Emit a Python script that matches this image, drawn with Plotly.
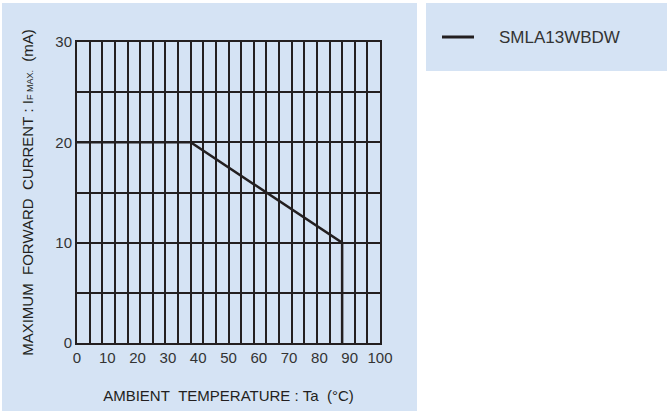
import plotly.graph_objects as go

# ---- data ----
series_name = "SMLA13WBDW"
temperature = [0, 37.5, 87.5, 87.5]      # Ta (°C)
current_max = [20, 20, 10, 0]            # IF max (mA)
x_tick_vals = [0, 10, 20, 30, 40, 50, 60, 70, 80, 90, 100]
y_tick_vals = [0, 5, 10, 15, 20, 25, 30]
y_tick_text = ["0", "", "10", "", "20", "", "30"]

W, H = 667, 419
L, R, T, B = 77, 287, 42, 76
pw, ph = W - L - R, H - T - B

def px(x):  # pixel -> paper x
    return (x - L) / pw

def py(y):  # pixel -> paper y
    return (H - B - y) / ph

panel = "#d5e3f4"
ink = "#231f20"
FONT = "Liberation Sans, Arial, sans-serif"

fig = go.Figure()
fig.add_trace(go.Scatter(
    x=temperature, y=current_max, mode="lines", name=series_name,
    line=dict(color=ink, width=2.5), showlegend=False, hoverinfo="skip"))

nb = "\u00a0"
fig.update_layout(
    width=W, height=H,
    margin=dict(l=L, r=R, t=T, b=B, pad=0),
    paper_bgcolor="white", plot_bgcolor="white",
    font=dict(family=FONT, color=ink, size=14),
    xaxis=dict(
        range=[0, 100], tickvals=x_tick_vals, showgrid=False,
        minor=dict(tick0=0, dtick=100 / 24, showgrid=True, gridcolor=ink, gridwidth=1.5, ticks=""),
        showline=True, linecolor=ink, linewidth=2, mirror=True, ticks="",
        tickfont=dict(size=15, color="#333333"), zeroline=False,
        title=dict(text=f"AMBIENT{nb}{nb}TEMPERATURE{nb}:{nb}Ta{nb}{nb}(°C)",
                   font=dict(size=15, color=ink), standoff=25),
    ),
    yaxis=dict(
        range=[0, 30], tickvals=y_tick_vals, ticktext=y_tick_text,
        showgrid=True, gridcolor=ink, gridwidth=1.5,
        showline=True, linecolor=ink, linewidth=2, mirror=True, ticks="",
        tickfont=dict(size=15, color="#333333"), zeroline=False,
        title=dict(text=f"MAXIMUM{nb}{nb}FORWARD{nb}{nb}CURRENT{nb}:{nb}I<span style='font-size:9px'>F{nb}MAX.</span>{nb}{nb}(mA)",
                   font=dict(size=15, color=ink), standoff=18),
    ),
    shapes=[
        dict(type="rect", xref="paper", yref="paper", layer="below",
             x0=px(2), x1=px(417), y0=py(411), y1=py(3),
             fillcolor=panel, line=dict(width=0)),
        dict(type="rect", xref="paper", yref="paper", layer="below",
             x0=px(426), x1=px(667), y0=py(71), y1=py(3),
             fillcolor=panel, line=dict(width=0)),
        dict(type="line", xref="paper", yref="paper",
             x0=px(442), x1=px(474), y0=py(37), y1=py(37),
             line=dict(color=ink, width=3)),
    ],
    annotations=[
        dict(text=series_name, xref="paper", yref="paper",
             x=px(497), y=py(37), xanchor="left", yanchor="middle",
             showarrow=False, font=dict(size=17, color="#333333")),
    ],
)

fig.write_html("out.html", config={"displayModeBar": False},
               post_script="document.body.style.margin='0';document.body.style.overflow='hidden';")
